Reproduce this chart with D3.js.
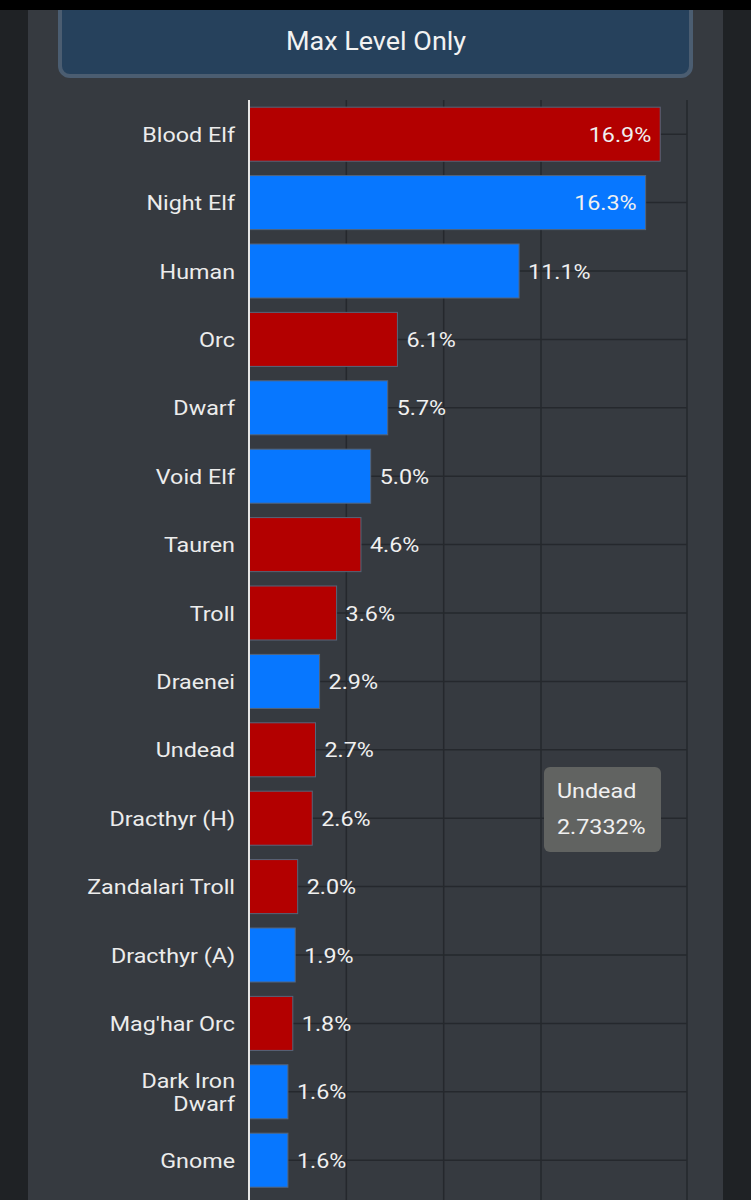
<!DOCTYPE html>
<html>
<head>
<meta charset="utf-8">
<script src="https://cdn.jsdelivr.net/npm/d3@7"></script>
<style>
  html, body { margin: 0; padding: 0; background: #1f2225; }
  svg { display: block; font-family: Roboto, "Noto Sans", sans-serif; }
</style>
</head>
<body>
<svg id="chart" width="751" height="1200"></svg>
<script>
const title = "Max Level Only";
const categories = ["Blood Elf", "Night Elf", "Human", "Orc", "Dwarf", "Void Elf", "Tauren", "Troll",
  "Draenei", "Undead", "Dracthyr (H)", "Zandalari Troll", "Dracthyr (A)", "Mag'har Orc", "Dark Iron Dwarf", "Gnome"];
const categoryLines = [["Blood Elf"], ["Night Elf"], ["Human"], ["Orc"], ["Dwarf"], ["Void Elf"], ["Tauren"], ["Troll"],
  ["Draenei"], ["Undead"], ["Dracthyr (H)"], ["Zandalari Troll"], ["Dracthyr (A)"], ["Mag'har Orc"], ["Dark Iron", "Dwarf"], ["Gnome"]];
const values = [16.9, 16.3, 11.1, 6.1, 5.7, 5.0, 4.6, 3.6, 2.9, 2.7332, 2.6, 2.0, 1.9, 1.8, 1.6, 1.6];
const factions = ["H", "A", "A", "H", "A", "A", "H", "H", "A", "H", "H", "H", "A", "H", "A", "A"];
const gridTicks = [4, 8, 12, 18];
const xDomain = [0, 18];
const tooltipIndex = 9;

const colors = { H: "#b30000", A: "#0777ff" };
const SX = 1.11; // horizontal stretch of the glyphs in the reference

const svg = d3.select("#chart");
const W = 751, H = 1200;

function stretchedText(parent, tx, ty, str, opts) {
  return parent.append("text")
    .attr("transform", `translate(${tx},${ty}) scale(${opts.sx || SX},1)`)
    .attr("text-anchor", opts.anchor || "start")
    .attr("font-size", opts.size || 21)
    .attr("fill", opts.fill || "#f0f0f0")
    .text(str);
}

// backgrounds
svg.append("rect").attr("x", 0).attr("y", 0).attr("width", W).attr("height", H).attr("fill", "#1f2225");
svg.append("rect").attr("x", 28).attr("y", 0).attr("width", 695).attr("height", H).attr("fill", "#363a40");

// header
svg.append("rect").attr("x", 60).attr("y", -30).attr("width", 631).attr("height", 106)
  .attr("rx", 10).attr("fill", "#26415c").attr("stroke", "#4b5d71").attr("stroke-width", 4);
stretchedText(svg, 376, 50, title, { anchor: "middle", size: 25, sx: 1.08, fill: "#f2f2f2" });
svg.append("rect").attr("x", 0).attr("y", 0).attr("width", W).attr("height", 10).attr("fill", "#000");

const plotLeft = 249, plotRight = 687, plotTop = 100;
const step = 68.4;
const x = d3.scaleLinear().domain(xDomain).range([plotLeft, plotRight]);
const y = d3.scaleBand().domain(categories).range([plotTop, plotTop + step * categories.length]).paddingInner(0.21).paddingOuter(0.105);

const g = svg.append("g");

// vertical grid
g.selectAll("line.vg").data(gridTicks).join("line")
  .attr("x1", d => x(d)).attr("x2", d => x(d)).attr("y1", plotTop).attr("y2", H)
  .attr("stroke", "#25282d").attr("stroke-width", 1.5);
// horizontal grid at band centers
g.selectAll("line.hg").data(categories).join("line")
  .attr("x1", plotLeft).attr("x2", plotRight)
  .attr("y1", d => y(d) + y.bandwidth() / 2).attr("y2", d => y(d) + y.bandwidth() / 2)
  .attr("stroke", "#25282d").attr("stroke-width", 1.5);

// bars
g.selectAll("rect.bar").data(values).join("rect")
  .attr("x", x(0)).attr("y", (d, i) => y(categories[i]))
  .attr("width", d => x(d) - x(0)).attr("height", y.bandwidth())
  .attr("fill", (d, i) => colors[factions[i]])
  .attr("stroke", "#56657a").attr("stroke-width", 1);

// axis line
g.append("line").attr("x1", plotLeft).attr("x2", plotLeft).attr("y1", plotTop).attr("y2", H)
  .attr("stroke", "#e6e6e6").attr("stroke-width", 2);

// category labels
categoryLines.forEach((lines, i) => {
  const cy = y(categories[i]) + y.bandwidth() / 2;
  const lh = 23;
  lines.forEach((ln, j) => {
    stretchedText(g, 235, cy + (j - (lines.length - 1) / 2) * lh + 7.5, ln, { anchor: "end", fill: "#ececec" });
  });
});

// value labels
const fmt = d3.format(".1f");
values.forEach((d, i) => {
  const inside = d > 15;
  stretchedText(g, inside ? x(d) - 9 : x(d) + 9, y(categories[i]) + y.bandwidth() / 2 + 7.5,
    fmt(d) + "%", { anchor: inside ? "end" : "start" });
});

// tooltip
const tt = svg.append("g").attr("transform", "translate(544,767)");
tt.append("rect").attr("width", 117).attr("height", 85).attr("rx", 6).attr("fill", "#616361");
stretchedText(tt, 13, 31, categories[tooltipIndex], {});
stretchedText(tt, 13, 67, d3.format(".4f")(values[tooltipIndex]) + "%", {});
</script>
</body>
</html>
